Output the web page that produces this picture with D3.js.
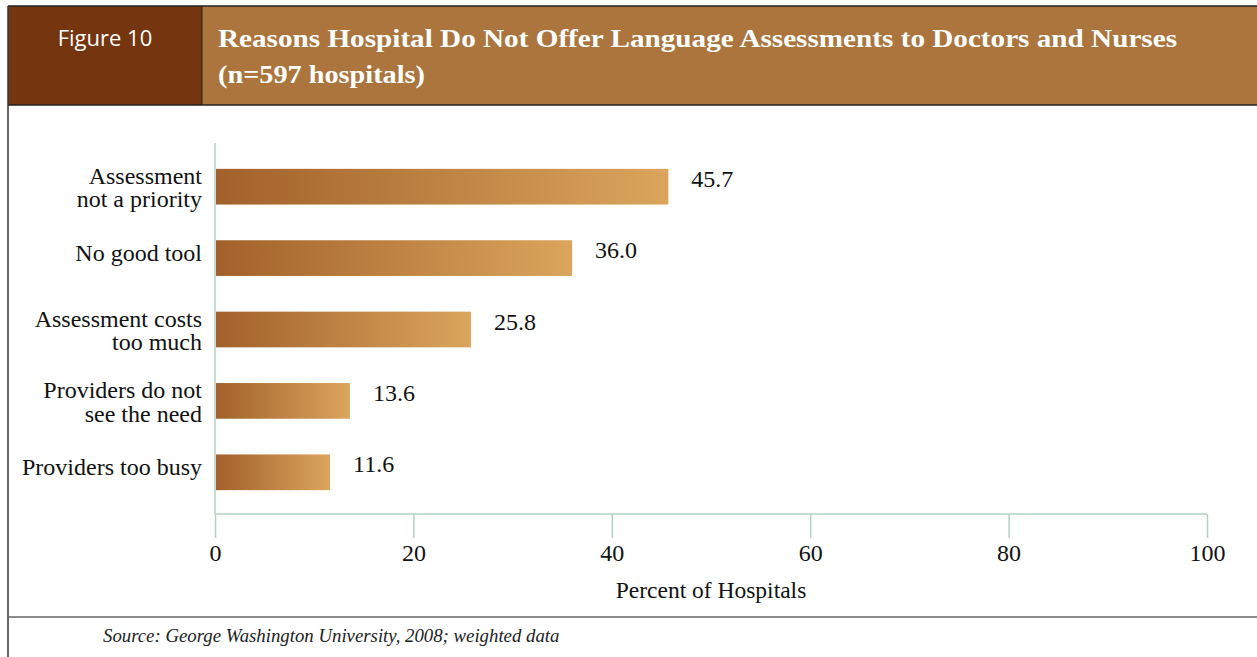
<!DOCTYPE html>
<html>
<head>
<meta charset="utf-8">
<script src="https://cdn.jsdelivr.net/npm/d3@7"></script>
<style>
  html, body { margin: 0; padding: 0; background: #fff; }
  svg { display: block; }
</style>
</head>
<body>
<svg id="chart" width="1257" height="657"></svg>
<script>
// Survey reasons and the share of hospitals citing each
const categories = [
  ["Assessment", "not a priority"],
  ["No good tool"],
  ["Assessment costs", "too much"],
  ["Providers do not", "see the need"],
  ["Providers too busy"]
];
const values = [45.7, 36.0, 25.8, 13.6, 11.6];
const tickValues = [0, 20, 40, 60, 80, 100];
const figureLabel = "Figure 10";
const titleLines = [
  "Reasons Hospital Do Not Offer Language Assessments to Doctors and Nurses",
  "(n=597 hospitals)"
];
const axisTitle = "Percent of Hospitals";
const sourceNote = "Source: George Washington University, 2008; weighted data";

const svg = d3.select("#chart");
const W = 1257, H = 657;
const serif = "'Liberation Serif', 'Times New Roman', serif";

// ---- frame and header ----
svg.append("rect").attr("x", 8).attr("y", 6).attr("width", 194).attr("height", 99)
  .attr("fill", "#74350f");
svg.append("rect").attr("x", 202).attr("y", 6).attr("width", W - 202).attr("height", 99)
  .attr("fill", "#ab753d");
svg.append("line").attr("x1", 8).attr("x2", W).attr("y1", 6).attr("y2", 6)
  .attr("stroke", "#222").attr("stroke-width", 1.5);
svg.append("line").attr("x1", 8).attr("x2", W).attr("y1", 105).attr("y2", 105)
  .attr("stroke", "#222").attr("stroke-width", 1.5);
svg.append("line").attr("x1", 202).attr("x2", 202).attr("y1", 6).attr("y2", 105)
  .attr("stroke", "#222").attr("stroke-width", 1);
svg.append("line").attr("x1", 8).attr("x2", 8).attr("y1", 6).attr("y2", H)
  .attr("stroke", "#333").attr("stroke-width", 1.5);
svg.append("line").attr("x1", 8).attr("x2", W).attr("y1", 617).attr("y2", 617)
  .attr("stroke", "#666").attr("stroke-width", 1.5);

svg.append("text").text(figureLabel)
  .attr("x", 105).attr("y", 46).attr("text-anchor", "middle")
  .attr("fill", "#fff").attr("font-size", 22)
  .attr("font-family", "'Liberation Sans Narrow', 'Open Sans', sans-serif");

const titleWidths = [959, 207];
svg.append("g").selectAll("text").data(titleLines).join("text")
  .text(d => d)
  .attr("x", 218).attr("y", (d, i) => 47 + i * 36)
  .attr("textLength", (d, i) => titleWidths[i])
  .attr("lengthAdjust", "spacingAndGlyphs")
  .attr("fill", "#fff").attr("font-size", 26).attr("font-weight", "bold")
  .attr("font-family", serif);

// ---- scales ----
const x = d3.scaleLinear().domain([0, 100]).range([215, 1207]);
const y = d3.scaleBand().domain(d3.range(values.length)).range([151, 508]).paddingInner(0.5).paddingOuter(0.25);

// gradient fill for the bars
const grad = svg.append("defs").append("linearGradient")
  .attr("id", "barGrad").attr("x1", "0%").attr("x2", "100%").attr("y1", "0%").attr("y2", "0%");
grad.append("stop").attr("offset", "0%").attr("stop-color", "#a2612a");
grad.append("stop").attr("offset", "100%").attr("stop-color", "#dba55d");

// ---- axes ----
const axisColor = "#b3d3c2";
const xAxis = svg.append("g").attr("transform", "translate(0,514)")
  .call(d3.axisBottom(x).tickValues(tickValues).tickSize(24).tickPadding(6).tickFormat(d3.format("d")));
xAxis.select(".domain").attr("stroke", axisColor).attr("stroke-width", 1.5)
  .attr("d", `M${x(0)},0H${x(100)}`);
xAxis.selectAll(".tick line").attr("stroke", axisColor).attr("stroke-width", 1.5);
xAxis.selectAll(".tick text").attr("fill", "#111").attr("font-size", 24)
  .attr("font-family", serif);

svg.append("line").attr("x1", x(0)).attr("x2", x(0)).attr("y1", 143).attr("y2", 514)
  .attr("stroke", axisColor).attr("stroke-width", 1.5);

// ---- bars ----
svg.append("g").selectAll("rect").data(values).join("rect")
  .attr("x", x(0) + 1).attr("y", (d, i) => y(i))
  .attr("width", d => x(d) - x(0) - 1).attr("height", y.bandwidth())
  .attr("fill", "url(#barGrad)");

// value labels
svg.append("g").selectAll("text").data(values).join("text")
  .text(d => d3.format(".1f")(d))
  .attr("x", d => x(d) + 23).attr("y", (d, i) => y(i) + y.bandwidth() / 2)
  .attr("fill", "#111").attr("font-size", 24).attr("font-family", serif);

// category labels
const catG = svg.append("g");
categories.forEach((lines, i) => {
  const cy = y(i) + y.bandwidth() / 2;
  const lh = 23.5;
  const t = catG.append("text").attr("text-anchor", "end")
    .attr("fill", "#111").attr("font-size", 24).attr("font-family", serif);
  lines.forEach((ln, j) => {
    const off = lines.length > 1 ? (j - 0.5) * lh + 9 : 3;
    t.append("tspan").attr("x", 202).attr("y", cy + off).text(ln);
  });
});

// axis title and source line
svg.append("text").text(axisTitle)
  .attr("x", x(50)).attr("y", 598).attr("text-anchor", "middle")
  .attr("fill", "#111").attr("font-size", 23.5).attr("font-family", serif);

svg.append("text").text(sourceNote)
  .attr("x", 103).attr("y", 642)
  .attr("fill", "#222").attr("font-size", 18.8).attr("font-style", "italic")
  .attr("font-family", serif);
</script>
</body>
</html>
